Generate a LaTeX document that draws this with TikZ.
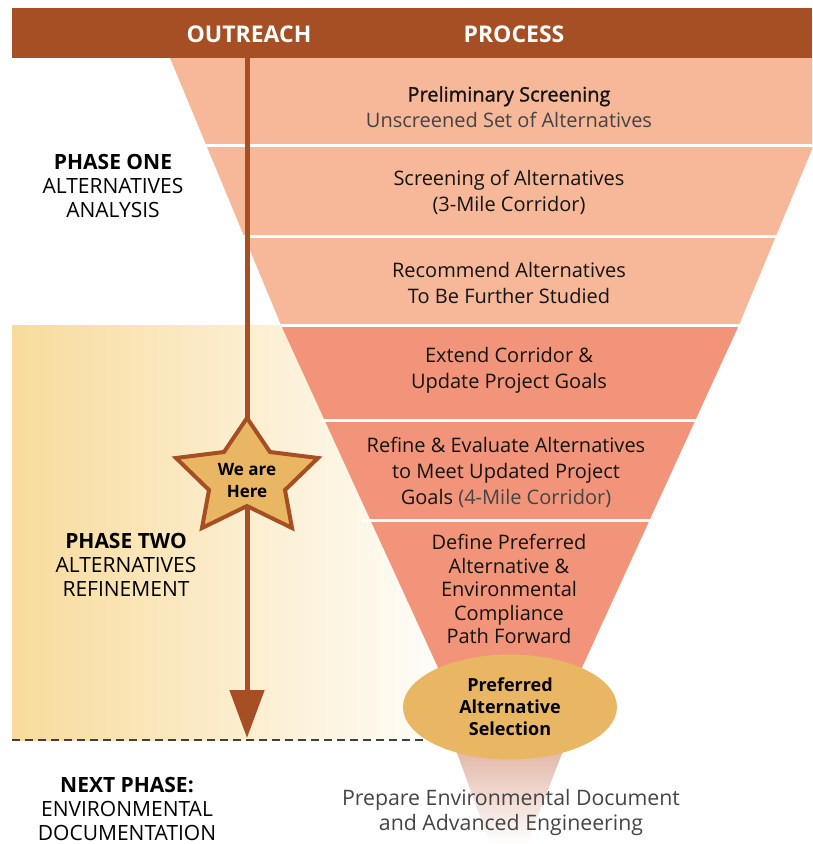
\documentclass[tikz,border=0pt]{standalone}
\usepackage{fontspec}
\setmainfont{Open Sans}
\newfontfamily\medfont[FakeBold=1.2]{Open Sans}
\usetikzlibrary{arrows.meta,shapes.geometric}
\definecolor{hdrbrown}{HTML}{A64F24}
\definecolor{bandlight}{HTML}{F7B799}
\definecolor{banddark}{HTML}{F29479}
\definecolor{goldfill}{HTML}{E9B663}
\definecolor{yellowbg}{HTML}{F8DB9C}
\definecolor{tailtop}{HTML}{D9A08A}
\definecolor{maintext}{HTML}{141414}
\definecolor{subtext}{HTML}{444444}
\tikzset{
  x=1pt, y=-1pt,
  hdrtext/.style={text=white, font=\bfseries\fontsize{23}{26}\selectfont},
  stagetext/.style={text=maintext, align=center, font=\fontsize{20}{26}\selectfont},
  phasetext/.style={text=black, align=center, font=\fontsize{21}{23.8}\selectfont},
  bottomtext/.style={text=subtext, align=center, font=\fontsize{21.3}{25}\selectfont},
  sepline/.style={white, line width=3pt},
}
\begin{document}
\begin{tikzpicture}
\useasboundingbox (0,0) rectangle (812,844);
\clip (0,0) rectangle (812,844);
% left phase-two background
\shade[left color=yellowbg, right color=white!97!yellowbg] (12,325) rectangle (450,740);
% header
\fill[hdrbrown] (12,8) rectangle (812,58);
% funnel bands
\fill[bandlight] (170,58) -- (850,58) -- (739,325) -- (281,325) -- cycle;
\fill[banddark] (281,325) -- (739,325) -- (558,720) -- (462,720) -- cycle;
\shade[top color=tailtop, bottom color=white] (445,720) -- (575,720) -- (527,844) -- (490,844) -- cycle;
\draw[sepline] (206,145) -- (814,145);
\draw[sepline] (244,236) -- (776,236);
\draw[sepline] (281,325) -- (739,325);
\draw[sepline] (320,420) -- (700,420);
\draw[sepline] (362,520) -- (658,520);
% dashed divider
\draw[dashed, dash pattern=on 8pt off 5pt, line width=2pt, black!75] (12,740) -- (450,740);
% selection ellipse
\node[ellipse, fill=goldfill, minimum width=214pt, minimum height=105pt, inner sep=0pt,
      align=center, font=\bfseries\fontsize{18}{22}\selectfont, text=black] (sel) at (510,707)
      {Preferred\\Alternative\\Selection};
% outreach arrow
\coordinate (arrtop) at (247,58);
\coordinate (arrend) at (247,738);
\draw[hdrbrown, line width=5pt, -{Triangle[length=48pt,width=34pt]}] (arrtop) -- (arrend);
% star
\filldraw[fill=goldfill, draw=hdrbrown, line width=4pt, line join=miter]
  (247,418) -- (270,452) -- (318,458) -- (285,490) -- (292,528) -- (247,506)
  -- (202,528) -- (209,490) -- (176,458) -- (224,452) -- cycle;
\node[align=center, font=\bfseries\fontsize{17}{22}\selectfont, text=black] (here) at (247,481) {We are\\Here};
% header labels
\node[hdrtext] (outreach) at (249,34) {OUTREACH};
\node[hdrtext] (process) at (514,34) {PROCESS};
% stage texts
\node[stagetext] (s1) at (509,107) {{\medfont Preliminary Screening}\\\textcolor{subtext}{Unscreened Set of Alternatives}};
\node[stagetext] (s2) at (509,192) {Screening of Alternatives\\(3-Mile Corridor)};
\node[stagetext] (s3) at (509,283) {Recommend Alternatives\\To Be Further Studied};
\node[stagetext] (s4) at (509,370) {Extend Corridor \&\\Update Project Goals};
\node[stagetext] (s5) at (506,472) {Refine \& Evaluate Alternatives\\to Meet Updated Project\\Goals \textcolor{subtext}{(4-Mile Corridor)}};
\node[stagetext, font=\fontsize{20}{23.5}\selectfont] (s6) at (509,589) {Define Preferred\\Alternative \&\\Environmental\\Compliance\\Path Forward};
% phase labels
\node[phasetext] (p1) at (113,186) {\textbf{PHASE ONE}\\ALTERNATIVES\\ANALYSIS};
\node[phasetext] (p2) at (126,565) {\textbf{PHASE TWO}\\ALTERNATIVES\\REFINEMENT};
\node[phasetext] (p3) at (127,809) {\textbf{NEXT PHASE:}\\ENVIRONMENTAL\\DOCUMENTATION};
% next phase text
\node[bottomtext] (next) at (511,812) {Prepare Environmental Document\\and Advanced Engineering};
\end{tikzpicture}
\end{document}
